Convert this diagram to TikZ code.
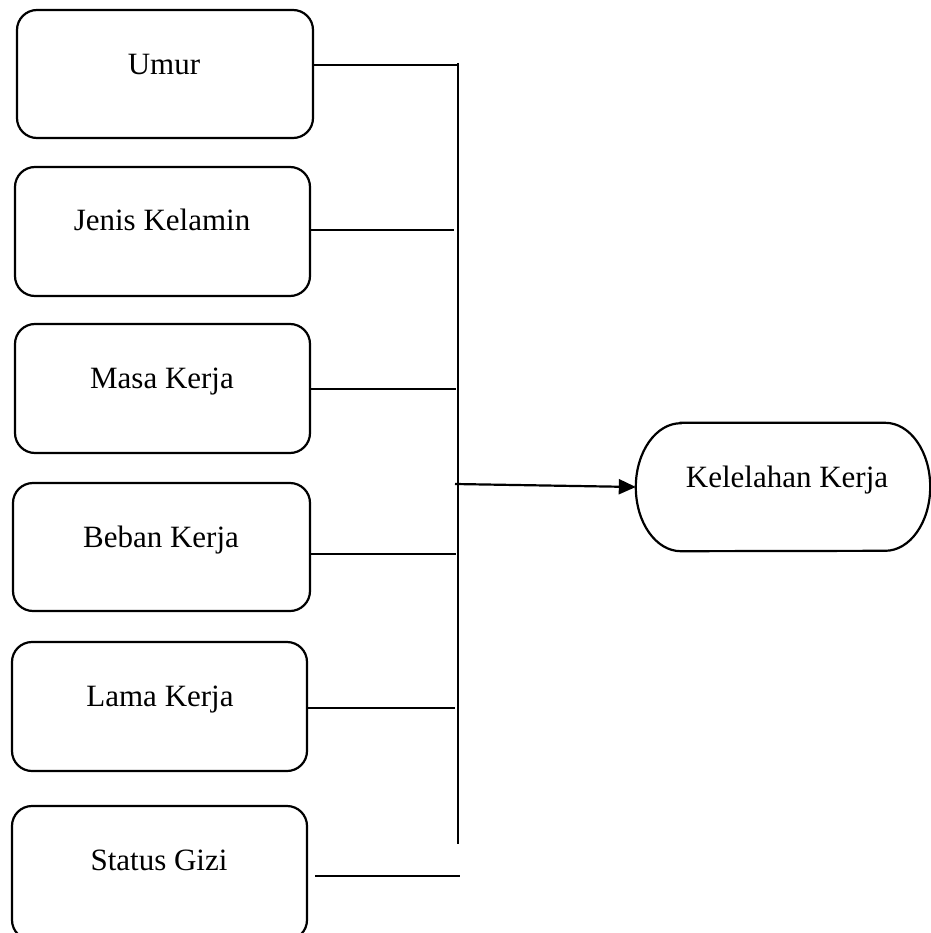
\documentclass[tikz,border=0pt]{standalone}
\usepackage{fontspec}
\setmainfont{Liberation Serif}
\usetikzlibrary{arrows.meta}
\begin{document}
\begin{tikzpicture}[x=1pt,y=-1pt,
  box/.style={draw,line width=2.2pt,rounded corners=20pt,minimum width=296pt,minimum height=128pt,inner sep=0pt},
  lbl/.style={anchor=base,inner sep=0pt,font=\fontsize{31}{36}\selectfont},
  conn/.style={line width=1.4pt},
  arr/.style={line width=2.2pt,-{Triangle[length=17pt,width=15pt]}}]
\useasboundingbox (0,0) rectangle (930,933);
% boxes
\node[box] (umur) at (165,74) {};
\node[lbl] (tumur) at (164,75) {Umur};
\node[box,minimum width=295pt,minimum height=129pt] (jenis) at (162.5,231.5) {};
\node[lbl] (tjenis) at (162,230) {Jenis Kelamin};
\node[box,minimum width=295pt,minimum height=129pt] (masa) at (162.5,388.5) {};
\node[lbl] (tmasa) at (162,388) {Masa Kerja};
\node[box,minimum width=297pt] (beban) at (161.5,547) {};
\node[lbl] (tbeban) at (161,547) {Beban Kerja};
\node[box,minimum width=295pt,minimum height=129pt] (lama) at (159.5,706.5) {};
\node[lbl] (tlama) at (160,706) {Lama Kerja};
\node[box,minimum width=295pt,minimum height=134pt] (status) at (159.5,873) {};
\node[lbl] (tstatus) at (159,870) {Status Gizi};
% target
\node[minimum width=294pt,minimum height=128pt,inner sep=0pt] (kel) at (783,487) {};
\draw[line width=2.2pt] ([xshift=45pt]kel.north west) -- ([xshift=-45pt]kel.north east)
  arc[start angle=90,end angle=-90,x radius=45pt,y radius=64pt]
  -- ([xshift=45pt]kel.south west)
  arc[start angle=270,end angle=90,x radius=45pt,y radius=64pt] -- cycle;
\node[lbl] (tkel) at (787,487) {Kelelahan Kerja};
% bus
\coordinate (bustop) at (458,63);
\coordinate (busbot) at (458,844);
\draw[conn] (bustop) -- (busbot);
\coordinate (e1) at (458,65);
\coordinate (e2) at (454,230);
\coordinate (e3) at (456,389);
\coordinate (e4) at (456,554);
\coordinate (e5) at (455,708);
\coordinate (s6) at (315,876);
\coordinate (e6) at (460,876);
\draw[conn] (umur.east |- e1) -- (e1);
\draw[conn] (jenis.east |- e2) -- (e2);
\draw[conn] (masa.east |- e3) -- (e3);
\draw[conn] (beban.east |- e4) -- (e4);
\draw[conn] (lama.east |- e5) -- (e5);
\draw[conn] (s6) -- (e6);
\coordinate (junc) at (455,484);
\draw[arr] (junc) -- (kel.west);
\end{tikzpicture}
\end{document}
